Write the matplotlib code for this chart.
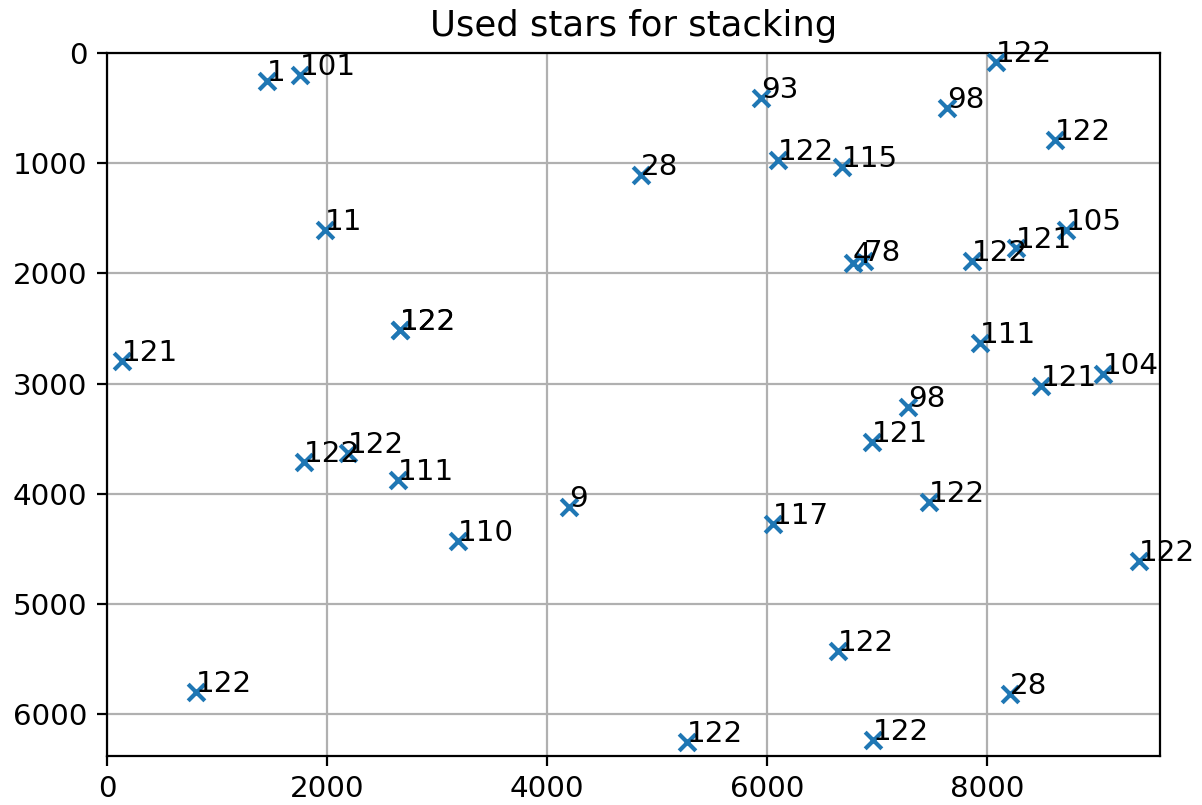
import matplotlib
matplotlib.use("Agg")
import matplotlib.pyplot as plt

# Star positions (pixel coordinates on the stacked frame) and the number of
# frames each star was used in.
star_x = [1455, 1755, 8082, 5945, 7636, 8618, 4855, 6100, 6682, 1982,
          6782, 6882, 7864, 8264, 8718, 2664, 2666, 136, 7936, 8491,
          9055, 7282, 6955, 1791, 2191, 2645, 4200, 3191, 6055, 7473,
          9382, 6645, 809, 8209, 5273, 6964]
star_y = [254, 200, 82, 408, 499, 790, 1107, 971, 1035, 1607,
          1906, 1888, 1888, 1770, 1607, 2514, 2512, 2796, 2632, 3023,
          2914, 3213, 3531, 3712, 3631, 3876, 4121, 4430, 4275, 4076,
          4611, 5428, 5800, 5818, 6254, 6236]
star_count = [1, 101, 122, 93, 98, 122, 28, 122, 115, 11,
              4, 78, 122, 121, 105, 122, 122, 121, 111, 121,
              104, 98, 121, 122, 122, 111, 9, 110, 117, 122,
              122, 122, 122, 28, 122, 122]

plt.rcParams["font.size"] = 10.6

fig = plt.figure(figsize=(6.01, 4.025), dpi=200)
ax = fig.add_axes([0.089, 0.061, 0.876, 0.873])

ax.scatter(star_x, star_y, marker="x", color="C0", zorder=3)
for x, y, n in zip(star_x, star_y, star_count):
    ax.annotate(str(n), (x, y), zorder=4)

ax.set_xlim(0, 9573)
ax.set_ylim(6381, 0)
ax.set_xticks([0, 2000, 4000, 6000, 8000])
ax.set_yticks([0, 1000, 2000, 3000, 4000, 5000, 6000])
ax.grid(True)
ax.set_axisbelow(True)
ax.set_title("Used stars for stacking")

fig.savefig("out.png", dpi=200)
